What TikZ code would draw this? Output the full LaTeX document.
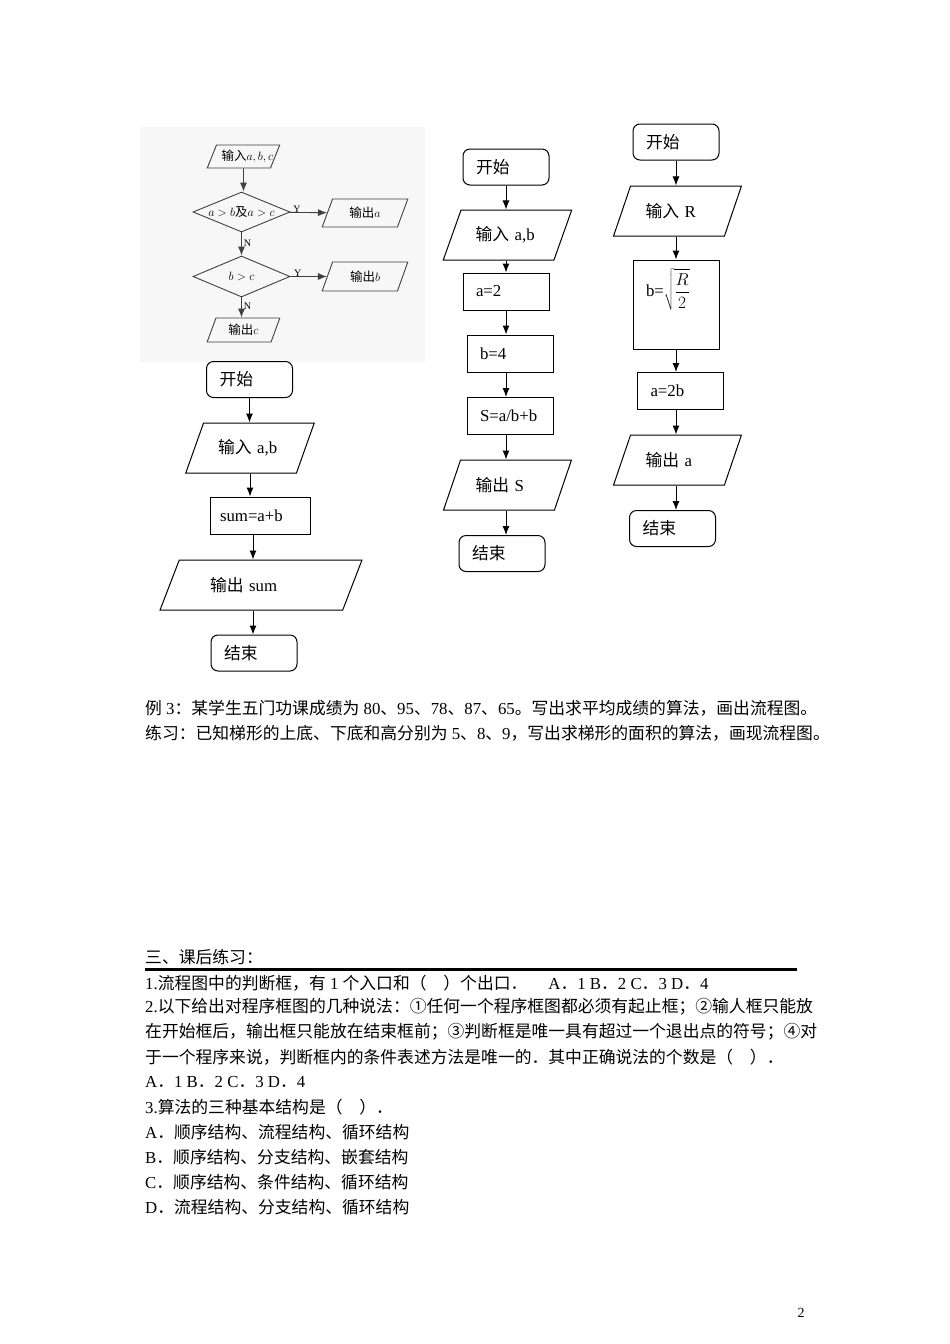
\documentclass[tikz,border=0pt]{standalone}
\usepackage{fontspec}
\setmainfont{Liberation Serif}
\newfontfamily\cjk{Noto Sans CJK SC}
% switch to the CJK font for Chinese characters
\XeTeXinterchartokenstate=1
\newXeTeXintercharclass\cjkcls
\newcount\cjkc
\cjkc="3000
\loop \XeTeXcharclass\cjkc=\cjkcls \ifnum\cjkc<"9FFF \advance\cjkc by 1 \repeat
\cjkc="FF00
\loop \XeTeXcharclass\cjkc=\cjkcls \ifnum\cjkc<"FFEF \advance\cjkc by 1 \repeat
\cjkc="2460
\loop \XeTeXcharclass\cjkc=\cjkcls \ifnum\cjkc<"2473 \advance\cjkc by 1 \repeat
\XeTeXinterchartoks 0 \cjkcls = {\begingroup\cjk}
\XeTeXinterchartoks 4095 \cjkcls = {\begingroup\cjk}
\XeTeXinterchartoks \cjkcls 0 = {\endgroup}
\XeTeXinterchartoks \cjkcls 4095 = {\endgroup}
\usetikzlibrary{shapes.geometric}
\usetikzlibrary{arrows.meta}
\tikzset{
    every node/.style={
        font=\fontsize{16.8}{20}\selectfont},
    term/.style={
        draw, line width=1pt,
        rounded corners=7pt,
        minimum width=86pt, minimum height=36pt,
        inner xsep=13pt, text width=60pt, align=left},
    proc/.style={
        draw, line width=1pt,
        minimum width=86pt, minimum height=37pt,
        inner xsep=13pt, text width=60pt, align=left},
    io/.style={
        draw, line width=1pt,
        trapezium, trapezium left angle=60, trapezium right angle=120,
        trapezium stretches=true,
        minimum width=129pt, minimum height=50pt,
        text width=64pt, align=left},
    scanio/.style={
        io, draw=black!75, line width=0.9pt,
        trapezium left angle=66, trapezium right angle=114,
        font=\fontsize{12.5}{14}\selectfont, text width=44pt, align=center},
    test/.style={
        draw=black!75, line width=0.9pt, diamond, aspect=2.4, inner sep=0pt,
        font=\fontsize{12.5}{14}\selectfont},
    yn/.style={
        font=\fontsize{10}{12}\selectfont, inner sep=0pt},
    flow/.style={
        draw, line width=1pt,
        -{Latex[length=9pt,width=7pt]}},
    scanflow/.style={
        flow, draw=black!75, line width=0.9pt},
    txt/.style={
        anchor=west, inner sep=0pt}}

\begin{document}
\begin{tikzpicture}[x=1pt,y=-1pt]
    \useasboundingbox (0,0) rectangle (950,1344);

    % scanned chart
    \fill[black!3] (140,127) rectangle (425,362);
    \node[scanio,minimum width=73pt,minimum height=23pt] (sin) at (243.5,156.5) {输入$a,b,c$};
    \node[test,minimum width=97pt,minimum height=40pt] (d1) at (241.5,212) {$a>b$及$a>c$};
    \node[scanio,minimum width=86pt,minimum height=28pt] (oa) at (365,213) {输出$a$};
    \node[test,minimum width=97pt,minimum height=41pt] (d2) at (241.5,276.5) {$b>c$};
    \node[scanio,minimum width=86pt,minimum height=29pt] (ob) at (365,276.5) {输出$b$};
    \node[scanio,minimum width=73pt,minimum height=24pt] (oc) at (243.5,330) {输出$c$};

    \draw[scanflow] (sin) -- (sin |- d1.north);
    \draw[scanflow] (d1) -- node[yn,above,pos=0.2] {Y} (oa);
    \draw[scanflow] (d1) -- node[yn,right,pos=0.45,xshift=2pt] {N} (d2);
    \draw[scanflow] (d2) -- node[yn,above,pos=0.2] {Y} (ob);
    \draw[scanflow] (d2.south) -- node[yn,right,pos=0.45,xshift=2pt] {N} (d2.south |- oc.north);

    % sum chart
    \node[term] (start1) at (249.5,379.5) {开始};
    \node[io] (in1) at (250,448) {输入 a,b};
    \node[proc,minimum width=100pt,inner xsep=10pt,text width=80pt] (sum1) at (260,515.5) {sum=a+b};
    \node[io,minimum width=202pt,text width=102pt] (out1) at (261,585) {输出 sum};
    \node[term] (end1) at (254,653) {结束};

    \draw[flow] (start1) -- (start1 |- in1.north);
    \draw[flow] (in1.south) -- (in1.south |- sum1.north);
    \draw[flow] ([xshift=-7pt]sum1.south) -- ([xshift=-7pt]sum1.south |- out1.north);
    \draw[flow] ([xshift=-8pt]out1.south) -- ([xshift=-8pt]out1.south |- end1.north);

    % area chart
    \node[term] (start2) at (506,167) {开始};
    \node[io] (in2) at (507.5,235) {输入 a,b};
    \node[proc] (a2) at (506,291.5) {a=2};
    \node[proc] (b2) at (510,353.5) {b=4};
    \node[proc] (s2) at (510,416) {S=a/b+b};
    \node[io] (out2) at (507.5,485) {输出 S};
    \node[term] (end2) at (502,553.5) {结束};

    \draw[flow] (start2) -- (start2 |- in2.north);
    \draw[flow] (start2 |- in2.south) -- (start2 |- a2.north);
    \draw[flow] (a2) -- (a2 |- b2.north);
    \draw[flow] (a2 |- b2.south) -- (a2 |- s2.north);
    \draw[flow] (a2 |- s2.south) -- (a2 |- out2.north);
    \draw[flow] (a2 |- out2.south) -- (a2 |- end2.north);

    % radius chart
    \node[term] (start3) at (676,142) {开始};
    \node[io] (in3) at (677.5,211) {输入 R};
    \node[proc,minimum height=89pt] (b3) at (676,304.5) {\raisebox{0pt}[\height][\dimexpr\depth+30pt]{b=$\displaystyle\sqrt{\frac{R}{2}}$}};
    \node[proc] (a3) at (680.5,391) {a=2b};
    \node[io] (out3) at (677.5,460) {输出 a};
    \node[term] (end3) at (672.5,528.5) {结束};

    \draw[flow] (start3) -- (start3 |- in3.north);
    \draw[flow] (start3 |- in3.south) -- (start3 |- b3.north);
    \draw[flow] (b3) -- (b3 |- a3.north);
    \draw[flow] (b3 |- a3.south) -- (b3 |- out3.north);
    \draw[flow] (b3 |- out3.south) -- (b3 |- end3.north);

    % text
    \node[txt] (ex3) at (145,708) {例 3：某学生五门功课成绩为 80、95、78、87、65。写出求平均成绩的算法，画出流程图。};
    \node[txt] (lx) at (145,733) {练习：已知梯形的上底、下底和高分别为 5、8、9，写出求梯形的面积的算法，画现流程图。};
    \node[txt] (h3) at (145,957) {三、课后练习：};
    \draw[line width=2.5pt] (145,969.5) -- (797,969.5);
    \node[txt] (q1) at (145,983) {1.流程图中的判断框，有 1 个入口和（　）个出口．\quad\ A．1 B．2 C．3 D．4};
    \node[txt] (q2a) at (145,1007) {2.以下给出对程序框图的几种说法：①任何一个程序框图都必须有起止框；②输人框只能放};
    \node[txt] (q2b) at (145,1032) {在开始框后，输出框只能放在结束框前；③判断框是唯一具有超过一个退出点的符号；④对};
    \node[txt] (q2c) at (145,1057) {于一个程序来说，判断框内的条件表述方法是唯一的．其中正确说法的个数是（　）．};
    \node[txt] (q2d) at (145,1082) {A．1 B．2 C．3 D．4};
    \node[txt] (q3) at (145,1107) {3.算法的三种基本结构是（　）．};
    \node[txt] (q3a) at (145,1132) {A．顺序结构、流程结构、循环结构};
    \node[txt] (q3b) at (145,1157) {B．顺序结构、分支结构、嵌套结构};
    \node[txt] (q3c) at (145,1182) {C．顺序结构、条件结构、循环结构};
    \node[txt] (q3d) at (145,1207) {D．流程结构、分支结构、循环结构};
    \node[font=\fontsize{14}{16}\selectfont] (pg) at (801,1313) {2};
\end{tikzpicture}
\end{document}
